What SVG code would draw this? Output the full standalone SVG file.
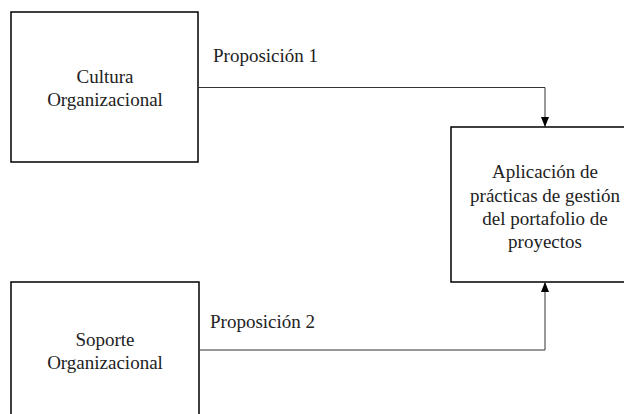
<svg xmlns="http://www.w3.org/2000/svg" width="624" height="414" viewBox="0 0 624 414">
<style>
.box{fill:#fff;stroke:#000;stroke-width:1.5}
.t{font-family:'Liberation Serif','Times New Roman',Tinos,'DejaVu Serif',serif;font-size:19px;fill:#222;text-anchor:middle}
.l{font-family:'Liberation Serif','Times New Roman',Tinos,'DejaVu Serif',serif;font-size:19px;fill:#222}
.c{fill:none;stroke:#333;stroke-width:1}
</style>
<defs>
<marker id="ah" viewBox="0 0 10 10" refX="10" refY="5" markerWidth="10" markerHeight="10" markerUnits="userSpaceOnUse" orient="auto">
<path d="M0,1 L10,5 L0,9 Z" fill="#000"/>
</marker>
</defs>
<rect width="624" height="414" fill="#fff"/>
<g id="cultura">
<rect class="box" x="11" y="12" width="187" height="150"/>
<text class="t" x="105" y="83">Cultura</text>
<text class="t" x="105" y="106">Organizacional</text>
</g>
<g id="soporte">
<rect class="box" x="11" y="282" width="188" height="150"/>
<text class="t" x="105" y="346">Soporte</text>
<text class="t" x="105" y="369">Organizacional</text>
</g>
<g id="aplicacion">
<rect class="box" x="451" y="127" width="190" height="155"/>
<text class="t" x="545" y="178">Aplicación de</text>
<text class="t" x="545" y="201.5">prácticas de gestión</text>
<text class="t" x="545" y="225">del portafolio de</text>
<text class="t" x="545" y="248">proyectos</text>
</g>
<g id="connectors">
<path class="c" d="M198,87.5 H545 V127" marker-end="url(#ah)"/>
<path class="c" d="M199,350 H545 V282" marker-end="url(#ah)"/>
<text class="l" x="213" y="62">Proposición 1</text>
<text class="l" x="210" y="328">Proposición 2</text>
</g>
</svg>
